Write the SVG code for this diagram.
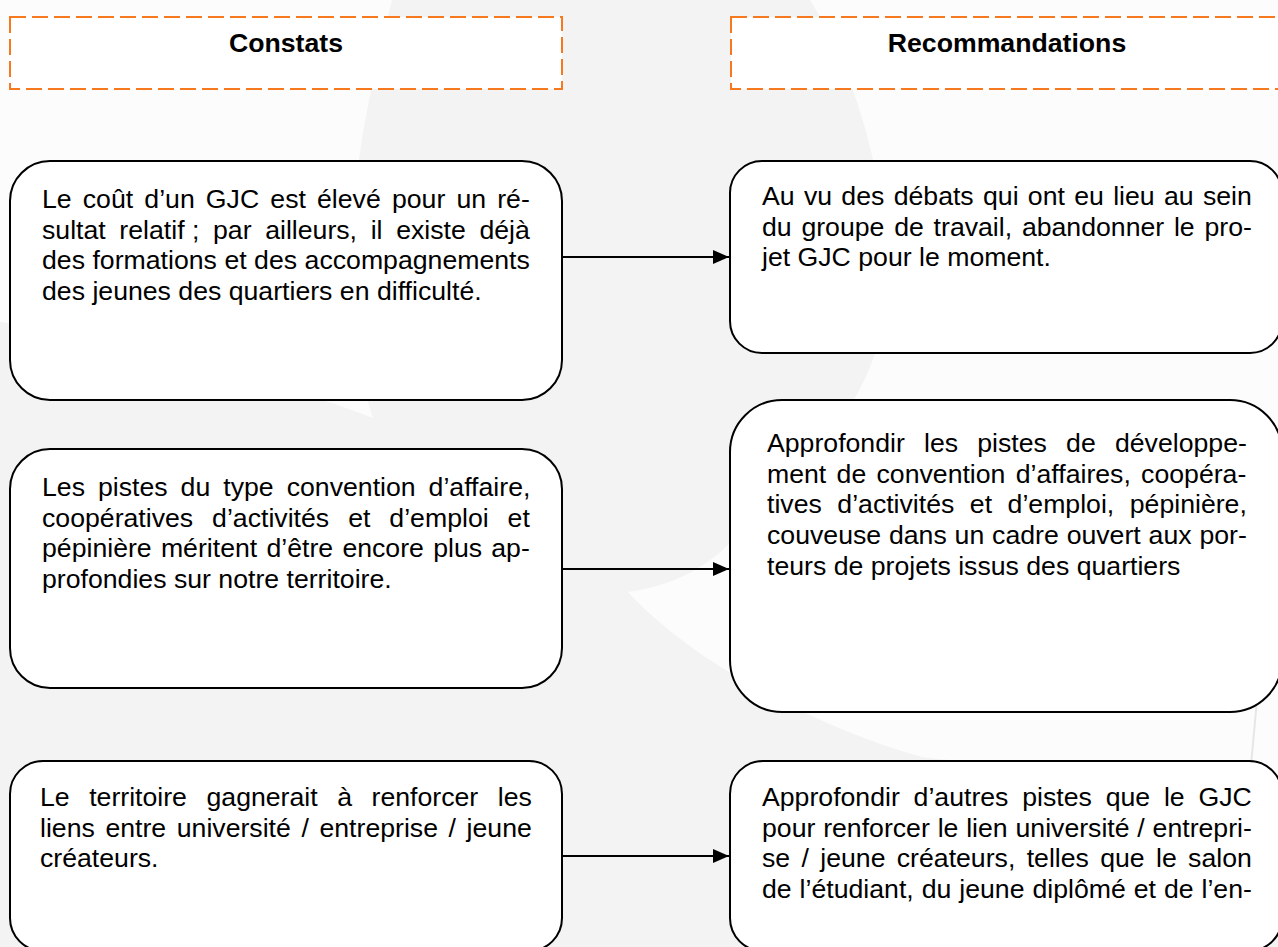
<svg xmlns="http://www.w3.org/2000/svg" width="1278" height="947" viewBox="0 0 1278 947">
<style>
.hdr{fill:#ffffff;stroke:#f7791f;stroke-width:2;stroke-dasharray:16 6}
.ht{font-family:"Liberation Sans",Arial,sans-serif;font-size:26.67px;font-weight:bold;fill:#000;text-anchor:middle}
.box{fill:#ffffff;stroke:#000;stroke-width:2}
.t{font-family:"Liberation Sans",Arial,sans-serif;font-size:26.67px;fill:#000}
.conn{stroke:#000;stroke-width:2;fill:none}
</style>
<defs>
<marker id="arr" markerUnits="userSpaceOnUse" markerWidth="17" markerHeight="15" refX="16" refY="7" orient="auto">
<path d="M0,0 L16,7 L0,14 Z" fill="#000"/>
</marker>
</defs>
<g id="background">
<rect x="0" y="0" width="1278" height="947" fill="#f3f3f3"/>
<path d="M0,0 L392,0 C372,80 354,160 351,250 C350,320 360,380 373,418 C345,407 300,392 250,377 C160,350 70,330 0,322 Z" fill="#fcfcfc"/>
<path d="M810,0 L1278,0 L1278,778 L1253,775 C1100,770 960,763 922,757 C810,725 690,660 628,592 C680,585 720,560 745,525 C830,450 880,380 886,300 C892,200 860,80 810,0 Z" fill="#fcfcfc"/>
<path d="M1257,700 L1250,776" stroke="#e6e6e6" stroke-width="2" fill="none"/>
</g>
<g id="header-constats">
<rect class="hdr" x="10" y="17" width="552" height="72"/>
<text class="ht" x="286" y="52">Constats</text>
</g>
<g id="header-recommandations">
<rect class="hdr" x="731" y="17" width="552" height="72"/>
<text class="ht" x="1007" y="52">Recommandations</text>
</g>
<g id="connectors">
<line class="conn" x1="562" y1="257" x2="729" y2="257" marker-end="url(#arr)"/>
<line class="conn" x1="562" y1="569" x2="729" y2="569" marker-end="url(#arr)"/>
<line class="conn" x1="562" y1="856" x2="729" y2="856" marker-end="url(#arr)"/>
</g>
<g id="constat-1">
<rect class="box" x="10" y="161" width="552" height="239" rx="40" ry="40"/>
<text class="t" x="42" y="208" word-spacing="3.74">Le coût d’un GJC est élevé pour un ré-</text>
<text class="t" x="42" y="238.7" word-spacing="6.24">sultat <tspan word-spacing="0">relatif ;</tspan> par ailleurs, il existe déjà</text>
<text class="t" x="42" y="269.3" word-spacing="0.08">des formations et des accompagnements</text>
<text class="t" x="42" y="300">des jeunes des quartiers en difficulté.</text>
</g>
<g id="recommandation-1">
<rect class="box" x="730" y="161" width="552" height="192" rx="32" ry="32"/>
<text class="t" x="762" y="205" word-spacing="1.90">Au vu des débats qui ont eu lieu au sein</text>
<text class="t" x="762" y="235.7" word-spacing="2.36">du groupe de travail, abandonner le pro-</text>
<text class="t" x="762" y="266.3">jet GJC pour le moment.</text>
</g>
<g id="constat-2">
<rect class="box" x="10" y="449" width="552" height="239" rx="40" ry="40"/>
<text class="t" x="42" y="496" word-spacing="5.6">Les pistes du type convention d’affaire,</text>
<text class="t" x="42" y="526.7" word-spacing="11.58">coopératives d’activités et d’emploi et</text>
<text class="t" x="42" y="557.3" word-spacing="1.84">pépinière méritent d’être encore plus ap-</text>
<text class="t" x="42" y="588">profondies sur notre territoire.</text>
</g>
<g id="recommandation-2">
<rect class="box" x="730" y="400" width="552" height="312" rx="52" ry="52"/>
<text class="t" x="767" y="452" word-spacing="11.79">Approfondir les pistes de développe-</text>
<text class="t" x="767" y="482.7" word-spacing="2.89">ment de convention d’affaires, coopéra-</text>
<text class="t" x="767" y="513.3" word-spacing="8.09">tives d’activités et d’emploi, pépinière,</text>
<text class="t" x="767" y="544" word-spacing="0.44">couveuse dans un cadre ouvert aux por-</text>
<text class="t" x="767" y="574.7">teurs de projets issus des quartiers</text>
</g>
<g id="constat-3">
<rect class="box" x="10" y="761" width="552" height="190" rx="33" ry="33"/>
<text class="t" x="40" y="806" word-spacing="12.13">Le territoire gagnerait à renforcer les</text>
<text class="t" x="40" y="836.7" word-spacing="3.19">liens entre université / entreprise / jeune</text>
<text class="t" x="40" y="867.3">créateurs.</text>
</g>
<g id="recommandation-3">
<rect class="box" x="730" y="761" width="552" height="190" rx="33" ry="33"/>
<text class="t" x="762" y="806" word-spacing="6.39">Approfondir d’autres pistes que le GJC</text>
<text class="t" x="762" y="836.7" word-spacing="0.40">pour renforcer le lien université / entrepri-</text>
<text class="t" x="762" y="867.3" word-spacing="3.93">se / jeune créateurs, telles que le salon</text>
<text class="t" x="762" y="898" word-spacing="0.54">de l’étudiant, du jeune diplômé et de l’en-</text>
</g>
</svg>
